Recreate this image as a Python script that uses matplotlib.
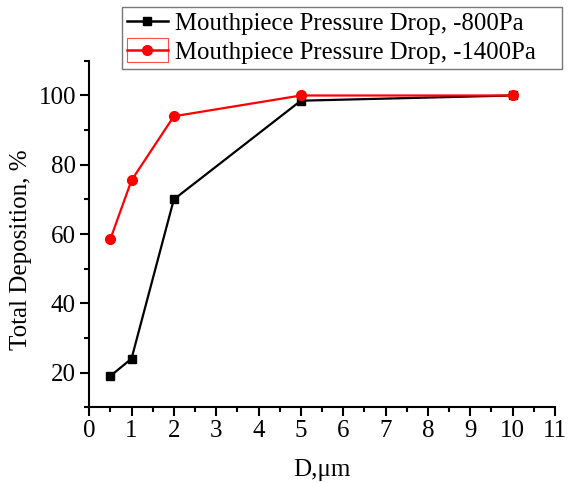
import matplotlib
matplotlib.use("Agg")
import matplotlib.pyplot as plt
from matplotlib.lines import Line2D
from matplotlib.patches import Rectangle
from matplotlib.legend_handler import HandlerLine2D
from matplotlib.ticker import MultipleLocator

plt.rcParams['font.family'] = ['Liberation Serif', 'DejaVu Serif']

# particle diameter (um) and total deposition (%)
diameter = [0.5, 1, 2, 5, 10]
dep_800 = [19, 24, 70, 98.5, 100]
dep_1400 = [58.5, 75.5, 94, 100, 100]
label_800 = "Mouthpiece Pressure Drop, -800Pa"
label_1400 = "Mouthpiece Pressure Drop, -1400Pa"


class BoxedLineHandler(HandlerLine2D):
    """Legend line with a thin box drawn around the handle area."""

    def create_artists(self, legend, orig_handle, xdescent, ydescent,
                       width, height, fontsize, trans):
        artists = super().create_artists(legend, orig_handle, xdescent,
                                         ydescent, width, height,
                                         fontsize, trans)
        rect = Rectangle((-xdescent, -ydescent - 0.12 * height),
                         width, height * 1.25, facecolor='none',
                         edgecolor='#ff4d4d', linewidth=0.8, transform=trans)
        return [rect] + list(artists)


fig = plt.figure(figsize=(5.68, 4.83), dpi=100)
ax = fig.add_axes([0.157, 0.157, 0.820, 0.717])

ax.plot(diameter, dep_800, color='black', marker='s', markersize=6, lw=1.6)
ax.plot(diameter, dep_1400, color='red', marker='o', markersize=7, lw=1.6)

ax.set_xlim(0, 11)
ax.set_ylim(10, 110)
ax.xaxis.set_major_locator(MultipleLocator(1))
ax.xaxis.set_minor_locator(MultipleLocator(0.5))
ax.yaxis.set_major_locator(MultipleLocator(20))
ax.yaxis.set_minor_locator(MultipleLocator(10))
ax.set_yticks([20, 40, 60, 80, 100])

for side in ['top', 'right']:
    ax.spines[side].set_visible(False)
for side in ['left', 'bottom']:
    ax.spines[side].set_linewidth(1.5)
ax.tick_params(which='major', direction='out', length=6.5, width=1.5,
               labelsize=18, pad=3)
ax.tick_params(which='minor', direction='out', length=3.5, width=1.5)

ax.set_xlabel("D,μm", fontsize=18, labelpad=12)
ax.set_ylabel("Total Deposition, %", fontsize=18)
ax.yaxis.set_label_coords(-0.123, 0.455)

h800 = Line2D([], [], color='black', marker='s', markersize=6, lw=1.8)
h1400 = Line2D([], [], color='red', marker='o', markersize=7, lw=1.8)
leg = fig.legend([h800, h1400], [label_800, label_1400],
                 handler_map={h1400: BoxedLineHandler()},
                 loc='upper left', mode='expand',
                 bbox_to_anchor=(0.2148, 0.856, 0.7746, 0.13),
                 fontsize=17.8, fancybox=False, frameon=True,
                 handlelength=1.65, handleheight=0.8, handletextpad=0.3,
                 borderpad=0.2, labelspacing=0.25, borderaxespad=0)
leg.get_frame().set_edgecolor('#555555')
leg.get_frame().set_linewidth(1.0)

fig.savefig("out.png", dpi=100)
